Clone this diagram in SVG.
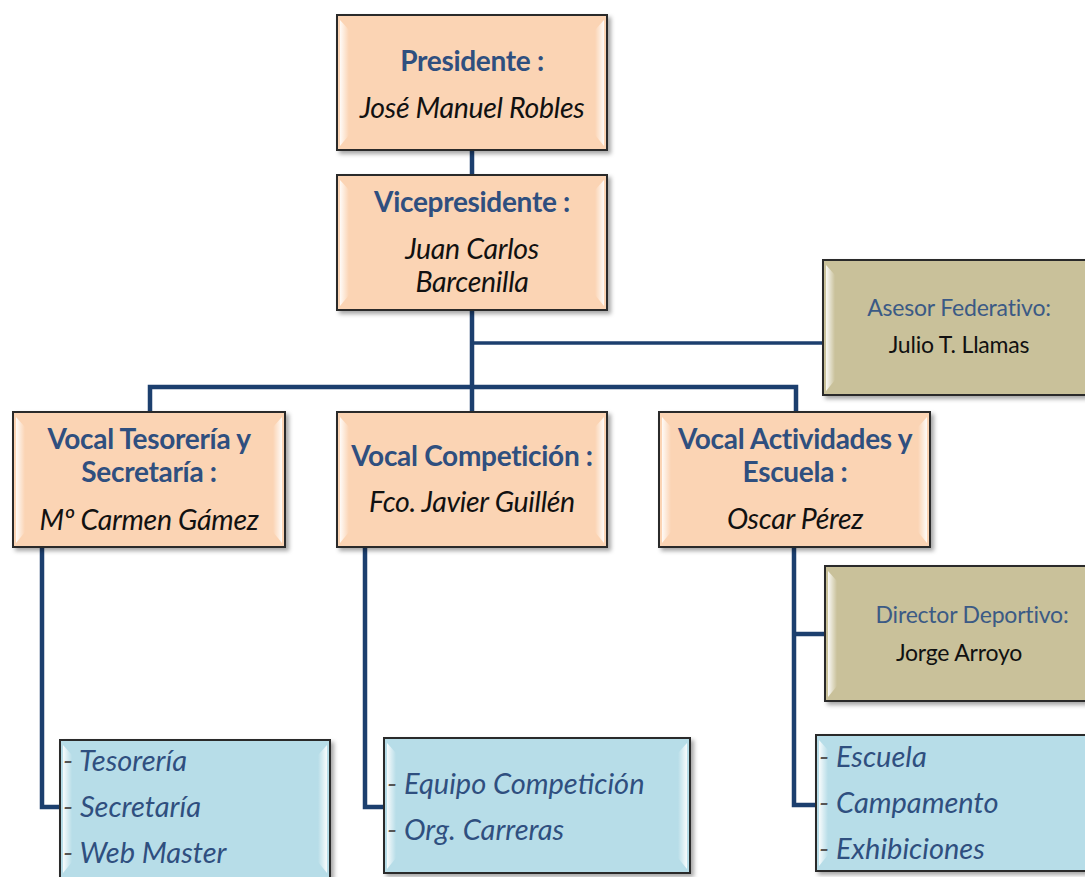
<svg xmlns="http://www.w3.org/2000/svg" width="1085" height="877" viewBox="0 0 1085 877">
<defs>
<filter id="sh" x="-10%" y="-10%" width="130%" height="130%">
<feDropShadow dx="3" dy="3" stdDeviation="2" flood-color="#000" flood-opacity="0.35"/>
</filter>
<linearGradient id="gl" x1="0" y1="0" x2="1" y2="0"><stop offset="0" stop-color="#fff" stop-opacity="0.9"/><stop offset="1" stop-color="#fff" stop-opacity="0"/></linearGradient>
<linearGradient id="gr" x1="1" y1="0" x2="0" y2="0"><stop offset="0" stop-color="#fff" stop-opacity="0.9"/><stop offset="1" stop-color="#fff" stop-opacity="0"/></linearGradient>
</defs>
<style>
.box{stroke:#2b2b2b;stroke-width:2;filter:url(#sh)}
.peach{fill:#fbd4b4}
.olive{fill:#c9c19a}
.blue{fill:#b7dde8}
.t{font-family:Lato,"Liberation Sans",sans-serif;text-anchor:middle}
.h{font-weight:bold;font-size:28px;fill:#2f4f7f;letter-spacing:-0.3px}
.n{font-style:italic;font-size:28.5px;fill:#111;letter-spacing:-0.3px}
.sh{font-size:23px;fill:#3b5a85;letter-spacing:-0.2px}
.sn{font-size:23px;fill:#111;letter-spacing:-0.2px}
.li{font-family:Lato,"Liberation Sans",sans-serif;font-style:italic;font-size:29px;fill:#2f4f7f}
.dash{fill:#555}
.c{stroke:#1c3f6e;stroke-width:4.5;fill:none;stroke-linejoin:miter}
.c2{stroke:#1c3f6e;stroke-width:3.5;fill:none}
</style>
<rect width="1085" height="877" fill="#fff"/>
<g id="connectors">
<path class="c" d="M472 150V387"/>
<path class="c2" d="M472 343H823"/>
<path class="c" d="M150 412V387H796V412"/>
<path class="c" d="M472 387V412"/>
<path class="c" d="M42 547V807H60"/>
<path class="c" d="M365 547V807H385"/>
<path class="c" d="M794 547V805H816"/>
<path class="c" d="M794 634H825"/>
</g>
<g id="presidente">
<rect class="box peach" x="337" y="15" width="270" height="135"/>
<path d="M340 20L349 30V135L340 146Z" fill="url(#gl)"/>
<path d="M604 20L595 30V135L604 146Z" fill="url(#gr)"/>
<text class="t h" x="472" y="71">Presidente :</text>
<text class="t n" x="472" y="118">José Manuel Robles</text>
</g>
<g id="vicepresidente">
<rect class="box peach" x="337" y="175" width="270" height="135"/>
<path d="M340 180L349 190V295L340 306Z" fill="url(#gl)"/>
<path d="M604 180L595 190V295L604 306Z" fill="url(#gr)"/>
<text class="t h" x="472" y="212">Vicepresidente :</text>
<text class="t n" x="472" y="259">Juan Carlos</text>
<text class="t n" x="472" y="292">Barcenilla</text>
</g>
<g id="asesor">
<rect class="box olive" x="823" y="260" width="270" height="135"/>
<path d="M826 265L835 275V380L826 391Z" fill="url(#gl)"/>
<text class="t sh" x="959" y="316">Asesor Federativo:</text>
<text class="t sn" x="959" y="353">Julio T. Llamas</text>
</g>
<g id="vocal-tesoreria">
<rect class="box peach" x="13" y="412" width="272" height="135"/>
<path d="M16 417L25 427V532L16 543Z" fill="url(#gl)"/>
<path d="M282 417L273 427V532L282 543Z" fill="url(#gr)"/>
<text class="t h" x="149" y="449">Vocal Tesorería y</text>
<text class="t h" x="149" y="482">Secretaría :</text>
<text class="t n" x="149" y="530">Mº Carmen Gámez</text>
</g>
<g id="vocal-competicion">
<rect class="box peach" x="337" y="412" width="270" height="135"/>
<path d="M340 417L349 427V532L340 543Z" fill="url(#gl)"/>
<path d="M604 417L595 427V532L604 543Z" fill="url(#gr)"/>
<text class="t h" x="472" y="466">Vocal Competición :</text>
<text class="t n" x="472" y="512">Fco. Javier Guillén</text>
</g>
<g id="vocal-actividades">
<rect class="box peach" x="659" y="412" width="271" height="135"/>
<path d="M662 417L671 427V532L662 543Z" fill="url(#gl)"/>
<path d="M927 417L918 427V532L927 543Z" fill="url(#gr)"/>
<text class="t h" x="795" y="449">Vocal Actividades y</text>
<text class="t h" x="795" y="482">Escuela :</text>
<text class="t n" x="795" y="529">Oscar Pérez</text>
</g>
<g id="director">
<rect class="box olive" x="825" y="566" width="270" height="135"/>
<path d="M828 571L837 581V686L828 697Z" fill="url(#gl)"/>
<text class="t sh" x="972" y="623">Director Deportivo:</text>
<text class="t sn" x="959" y="661">Jorge Arroyo</text>
</g>
<g id="lista-tesoreria">
<rect class="box blue" x="60" y="740" width="270" height="140"/>
<path d="M63 745L72 755V862L63 873Z" fill="url(#gl)"/>
<path d="M327 745L318 755V862L327 873Z" fill="url(#gr)"/>
<text class="li" x="63" y="771"><tspan class="dash">- </tspan>Tesorería</text>
<text class="li" x="63" y="817"><tspan class="dash">- </tspan>Secretaría</text>
<text class="li" x="63" y="863"><tspan class="dash">- </tspan>Web Master</text>
</g>
<g id="lista-competicion">
<rect class="box blue" x="384" y="738" width="306" height="135"/>
<path d="M387 743L396 753V858L387 869Z" fill="url(#gl)"/>
<path d="M687 743L678 753V858L687 869Z" fill="url(#gr)"/>
<text class="li" x="387" y="794"><tspan class="dash">- </tspan>Equipo Competición</text>
<text class="li" x="387" y="840"><tspan class="dash">- </tspan>Org. Carreras</text>
</g>
<g id="lista-actividades">
<rect class="box blue" x="816" y="735" width="272" height="136"/>
<path d="M819 740L828 750V855L819 866Z" fill="url(#gl)"/>
<text class="li" x="819" y="767"><tspan class="dash">- </tspan>Escuela</text>
<text class="li" x="819" y="813"><tspan class="dash">- </tspan>Campamento</text>
<text class="li" x="819" y="859"><tspan class="dash">- </tspan>Exhibiciones</text>
</g>
</svg>
